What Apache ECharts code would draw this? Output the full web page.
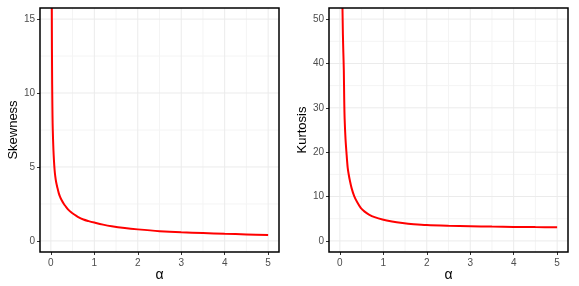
<!DOCTYPE html>
<html>
<head>
<meta charset="utf-8">
<script src="https://cdn.jsdelivr.net/npm/echarts@6/dist/echarts.min.js"></script>
<style>html,body{margin:0;padding:0;background:#fff;}#c{width:579px;height:286px;}</style>
</head>
<body>
<div id="c"></div>
<script>
// ---- data ----
const alphaSkew = [0.022, 0.025, 0.03, 0.035, 0.04, 0.05, 0.06, 0.07, 0.085, 0.1, 0.12, 0.15, 0.18, 0.21, 0.25, 0.3, 0.34, 0.4, 0.46, 0.53, 0.62, 0.75, 0.87, 1.0, 1.2, 1.4, 1.7, 2.0, 2.5, 3.0, 3.5, 4.0, 4.5, 5.0];
const skewness  = [15.75, 13.0, 10.6, 9.1, 8.0, 6.9, 6.1, 5.5, 4.83, 4.4, 4.0, 3.6, 3.25, 3.0, 2.75, 2.5, 2.34, 2.12, 1.95, 1.8, 1.63, 1.45, 1.34, 1.24, 1.1, 0.99, 0.87, 0.78, 0.66, 0.58, 0.53, 0.48, 0.44, 0.40];
const alphaKurt = [0.06, 0.07, 0.08, 0.091, 0.1, 0.11, 0.13, 0.152, 0.18, 0.2, 0.23, 0.27, 0.33, 0.4, 0.48, 0.57, 0.67, 0.8, 0.98, 1.2, 1.44, 1.7, 2.0, 2.5, 3.0, 3.5, 4.0, 4.5, 5.0];
const kurtosis  = [52.5, 46.5, 42.5, 38.5, 32.0, 27.5, 23.0, 19.9, 16.5, 15.2, 13.6, 11.9, 10.1, 8.7, 7.45, 6.6, 5.94, 5.35, 4.81, 4.38, 4.05, 3.78, 3.56, 3.4, 3.3, 3.22, 3.16, 3.11, 3.07];
const xTicks = [0, 1, 2, 3, 4, 5];
const xMinor = [0.5, 1.5, 2.5, 3.5, 4.5];
const skewTicks = [0, 5, 10, 15];
const skewMinor = [2.5, 7.5, 12.5];
const kurtTicks = [0, 10, 20, 30, 40, 50];
const kurtMinor = [5, 15, 25, 35, 45];

const zip = (a, b) => a.map((v, i) => [v, b[i]]);
const FONT = 'Liberation Sans, Arial, sans-serif';
const XMIN = -0.25, XMAX = 5.25;

function xAx(gi) {
  return {
    type: 'value', gridIndex: gi, min: XMIN, max: XMAX,
    name: 'α', nameLocation: 'middle', nameGap: 16, nameMoveOverlap: false,
    nameTextStyle: {fontFamily: FONT, fontSize: 14, color: '#000'},
    axisLine: {show: false, onZero: false},
    axisTick: {show: true, length: 3, lineStyle: {color: '#333', width: 1}, customValues: xTicks},
    axisLabel: {fontFamily: FONT, fontSize: 10, color: '#4d4d4d', margin: 6, customValues: xTicks},
    splitLine: {show: false}
  };
}
function yAx(gi, min, max, ticks, name) {
  return {
    type: 'value', gridIndex: gi, min: min, max: max,
    name: name, nameLocation: 'middle', nameGap: 20, nameMoveOverlap: false,
    nameTextStyle: {fontFamily: FONT, fontSize: 13, color: '#000'},
    axisLine: {show: false, onZero: false},
    axisTick: {show: true, length: 3, lineStyle: {color: '#333', width: 1}, customValues: ticks},
    axisLabel: {fontFamily: FONT, fontSize: 10, color: '#4d4d4d', margin: 5, customValues: ticks},
    splitLine: {show: false}
  };
}
// grid lines drawn as broken line series through the axes' own scales
function gridLines(gi, ymin, ymax, xs, ys, color, z) {
  const d = [];
  xs.forEach(v => { d.push([v, ymin], [v, ymax], [v, '-']); });
  ys.forEach(v => { d.push([XMIN, v], [XMAX, v], ['-', v]); });
  return {
    type: 'line', xAxisIndex: gi, yAxisIndex: gi, data: d, silent: true, z: z,
    showSymbol: false, connectNulls: false, animation: false,
    lineStyle: {color: color, width: 1}
  };
}
function curve(gi, xs, ys) {
  return {
    type: 'line', xAxisIndex: gi, yAxisIndex: gi, data: zip(xs, ys), z: 5,
    showSymbol: false, smooth: 0.3, clip: true, silent: true,
    lineStyle: {color: '#ff0000', width: 2}, animation: false
  };
}

const chart = echarts.init(document.getElementById('c'), null, {renderer: 'canvas'});
chart.setOption({
  animation: false,
  backgroundColor: '#fff',
  grid: [
    {left: 40, top: 8, width: 239, height: 244, outerBoundsMode: 'none', containLabel: false, show: true, borderColor: '#000', borderWidth: 1.5, backgroundColor: 'transparent', z: 10},
    {left: 329, top: 8, width: 239, height: 244, outerBoundsMode: 'none', containLabel: false, show: true, borderColor: '#000', borderWidth: 1.5, backgroundColor: 'transparent', z: 10}
  ],
  xAxis: [xAx(0), xAx(1)],
  yAxis: [yAx(0, -0.75, 15.75, skewTicks, 'Skewness'), yAx(1, -2.5, 52.5, kurtTicks, 'Kurtosis')],
  series: [
    gridLines(0, -0.75, 15.75, xMinor, skewMinor, '#f4f4f4', 1),
    gridLines(1, -2.5, 52.5, xMinor, kurtMinor, '#f4f4f4', 1),
    gridLines(0, -0.75, 15.75, xTicks, skewTicks, '#ebebeb', 2),
    gridLines(1, -2.5, 52.5, xTicks, kurtTicks, '#ebebeb', 2),
    curve(0, alphaSkew, skewness),
    curve(1, alphaKurt, kurtosis)
  ]
});
</script>
</body>
</html>
